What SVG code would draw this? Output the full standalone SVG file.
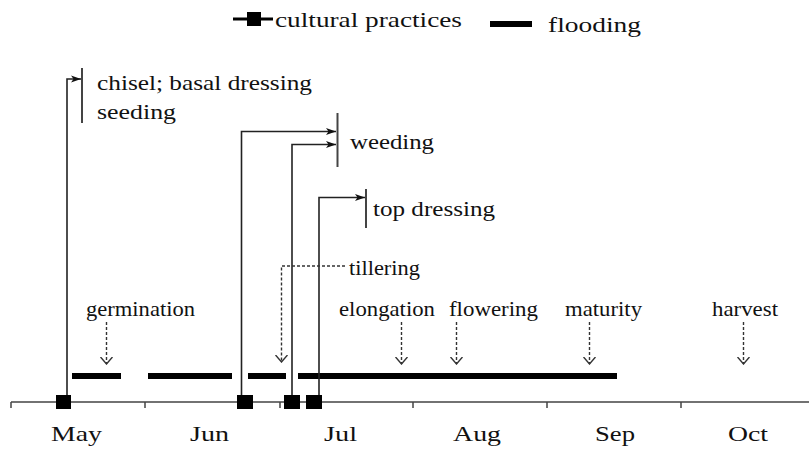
<svg xmlns="http://www.w3.org/2000/svg" width="809" height="450" viewBox="0 0 809 450">
<style>
text{font-family:"Liberation Serif","Times New Roman",serif;fill:#111;font-size:22px}
.conn{fill:none;stroke:#222;stroke-width:1.6}
.dash{fill:none;stroke:#333;stroke-width:1.4;stroke-dasharray:3 2}
.bar{stroke:#444;stroke-width:2}
.flood{stroke:#000;stroke-width:6}
.sq{fill:#000}
.axis{stroke:#444;stroke-width:1.5;fill:none}
</style>
<defs>
<marker id="arr" viewBox="0 0 10 8" refX="10" refY="4" markerWidth="10" markerHeight="8" markerUnits="userSpaceOnUse" orient="auto">
<path d="M0,0.5 L10,4 L0,7.5 L2.5,4 z" fill="#111"/>
</marker>
<marker id="vee" viewBox="0 0 8 13" refX="7.5" refY="6.5" markerWidth="8" markerHeight="13" markerUnits="userSpaceOnUse" orient="auto">
<path d="M0.5,0.5 L7.5,6.5 L0.5,12.5" fill="none" stroke="#333" stroke-width="1.4"/>
</marker>
</defs>
<rect width="809" height="450" fill="#fff"/>

<g id="legend">
<line x1="233" y1="19" x2="273" y2="19" stroke="#000" stroke-width="3"/>
<rect x="247" y="12" width="14" height="14" class="sq"/>
<text x="275" y="26.5" font-size="21" textLength="187" lengthAdjust="spacingAndGlyphs">cultural practices</text>
<line x1="490" y1="24" x2="532" y2="24" class="flood"/>
<text x="548" y="32" font-size="23" textLength="93" lengthAdjust="spacingAndGlyphs">flooding</text>
</g>

<g id="axis">
<path class="axis" d="M11,402 H809 M11,402 V408 M145,402 V408 M280,402 V408 M413,402 V408 M547,402 V408 M681,402 V408"/>
<text x="51" y="441" font-size="23" textLength="51" lengthAdjust="spacingAndGlyphs">May</text>
<text x="190" y="441" font-size="23" textLength="39" lengthAdjust="spacingAndGlyphs">Jun</text>
<text x="324" y="441" font-size="23" textLength="33" lengthAdjust="spacingAndGlyphs">Jul</text>
<text x="453" y="441" font-size="23" textLength="48" lengthAdjust="spacingAndGlyphs">Aug</text>
<text x="595" y="441" font-size="23" textLength="40" lengthAdjust="spacingAndGlyphs">Sep</text>
<text x="728" y="441" font-size="23" textLength="40" lengthAdjust="spacingAndGlyphs">Oct</text>
</g>

<g id="flooding-periods">
<line x1="72" y1="376" x2="121" y2="376" class="flood"/>
<line x1="148" y1="376" x2="232" y2="376" class="flood"/>
<line x1="248" y1="376" x2="286" y2="376" class="flood"/>
<line x1="298" y1="376" x2="617" y2="376" class="flood"/>
</g>

<g id="connectors">
<path class="conn" d="M67,395 V79 H81" marker-end="url(#arr)"/>
<path class="conn" d="M241.5,395 V131.5 H336" marker-end="url(#arr)"/>
<path class="conn" d="M292,395 V144.5 H336" marker-end="url(#arr)"/>
<path class="conn" d="M319,395 V197.5 H365" marker-end="url(#arr)"/>
<path class="dash" d="M345,266 H281.5 V362" marker-end="url(#vee)"/>
<path class="dash" d="M106.5,322 V364" marker-end="url(#vee)"/>
<path class="dash" d="M401.5,322 V364" marker-end="url(#vee)"/>
<path class="dash" d="M456.5,322 V364" marker-end="url(#vee)"/>
<path class="dash" d="M589.5,322 V364" marker-end="url(#vee)"/>
<path class="dash" d="M743.5,322 V364" marker-end="url(#vee)"/>
</g>

<g id="practice-chisel">
<rect x="56" y="395" width="15" height="14" class="sq"/>
<line x1="82" y1="68" x2="82" y2="123" class="bar"/>
<text x="97" y="89.5" textLength="215" lengthAdjust="spacingAndGlyphs">chisel; basal dressing</text>
<text x="97" y="118.5" textLength="79" lengthAdjust="spacingAndGlyphs">seeding</text>
</g>
<g id="practice-weeding">
<rect x="237" y="395" width="16" height="14" class="sq"/>
<rect x="284" y="395" width="16" height="14" class="sq"/>
<line x1="337.5" y1="113" x2="337.5" y2="167" class="bar"/>
<text x="350" y="148.5" textLength="84" lengthAdjust="spacingAndGlyphs">weeding</text>
</g>
<g id="practice-top-dressing">
<rect x="306" y="395" width="16" height="14" class="sq"/>
<line x1="366" y1="189" x2="366" y2="228" class="bar"/>
<text x="373" y="216" textLength="122" lengthAdjust="spacingAndGlyphs">top dressing</text>
</g>

<g id="stage-tillering"><text x="349" y="275" textLength="71" lengthAdjust="spacingAndGlyphs">tillering</text></g>
<g id="stage-germination"><text x="86" y="316" textLength="109" lengthAdjust="spacingAndGlyphs">germination</text></g>
<g id="stage-elongation"><text x="339" y="316" textLength="96" lengthAdjust="spacingAndGlyphs">elongation</text></g>
<g id="stage-flowering"><text x="449" y="316" textLength="89" lengthAdjust="spacingAndGlyphs">flowering</text></g>
<g id="stage-maturity"><text x="565" y="316" textLength="77" lengthAdjust="spacingAndGlyphs">maturity</text></g>
<g id="stage-harvest"><text x="712" y="316" textLength="66" lengthAdjust="spacingAndGlyphs">harvest</text></g>
</svg>
